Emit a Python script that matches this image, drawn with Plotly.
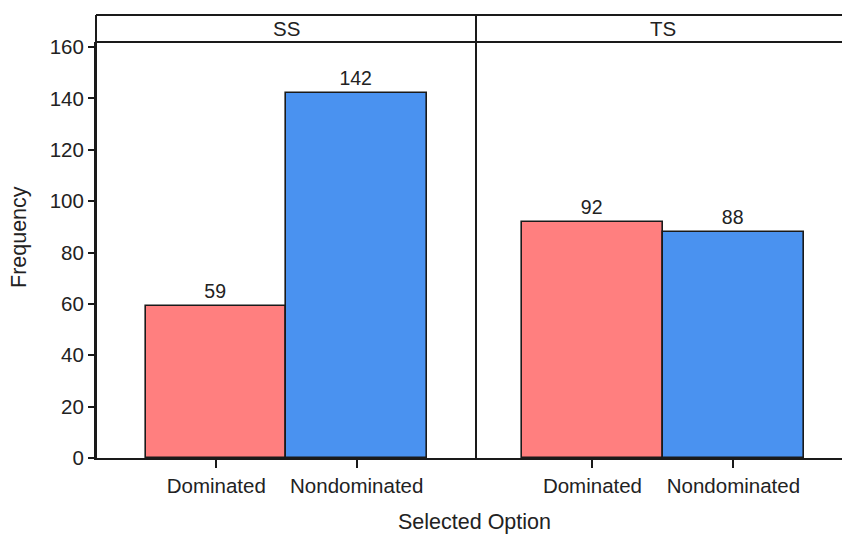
import plotly.graph_objects as go
from plotly.subplots import make_subplots

panels = ["SS", "TS"]
options = ["Dominated", "Nondominated"]
frequency = {"SS": [59, 142], "TS": [92, 88]}
colors = ["#FF7F7F", "#4A92F0"]
y_ticks = [0, 20, 40, 60, 80, 100, 120, 140, 160]

W, H = 842, 536
L, R, T, B = 96, 0, 42, 78
PW, PH = W - L - R, H - T - B
split = (476 - 96) / PW
strip_h = 27 / PH

fig = make_subplots(rows=1, cols=2, shared_yaxes=True, horizontal_spacing=0)
fam = "Liberation Sans, Arial"
font = dict(family=fam, size=20.5, color="#222")
for i, p in enumerate(panels):
    fig.add_trace(go.Bar(
        x=options, y=frequency[p], marker=dict(color=colors, line=dict(color="#1a1a1a", width=1.6)),
        text=[str(v) for v in frequency[p]], textposition="outside", cliponaxis=False,
        textfont=dict(family=fam, size=19.5, color="#222"),
        showlegend=False, width=1.0), row=1, col=i + 1)

axis_common = dict(showline=True, linecolor="#1a1a1a", linewidth=2, ticks="outside",
                   tickcolor="#1a1a1a", tickwidth=2, ticklen=8, showgrid=False,
                   tickfont=font, zeroline=False)
fig.update_layout(
    width=W, height=H, margin=dict(l=L, r=R, t=T, b=B),
    plot_bgcolor="white", paper_bgcolor="white", bargap=0,
    xaxis=dict(domain=[0, split], range=[-0.856, 1.849], **axis_common),
    xaxis2=dict(domain=[split, 1], range=[-0.826, 1.77], **axis_common),
    yaxis=dict(range=[0, 162], tickvals=y_ticks, showline=True, linecolor="#1a1a1a",
               linewidth=2, ticks="outside", tickcolor="#1a1a1a", tickwidth=2, ticklen=6,
               showgrid=False, zeroline=False, tickfont=font),
    yaxis2=dict(range=[0, 162], showticklabels=False, ticks="", showline=False, showgrid=False,
                zeroline=False),
)

lc = dict(color="#1a1a1a", width=2)
shapes = [
    dict(type="line", xref="paper", yref="paper", x0=0, x1=1, y0=1 + strip_h, y1=1 + strip_h, line=lc),
    dict(type="line", xref="paper", yref="paper", x0=0, x1=1, y0=1, y1=1, line=lc),
    dict(type="line", xref="paper", yref="paper", x0=0, x1=0, y0=0, y1=1 + strip_h, line=lc),
    dict(type="line", xref="paper", yref="paper", x0=split, x1=split, y0=0, y1=1 + strip_h, line=lc),
]
fig.update_layout(shapes=shapes)

ann = []
tscenter = (663 - 96) / PW
for p, cx in zip(panels, [split / 2, tscenter]):
    ann.append(dict(text=p, xref="paper", yref="paper", x=cx, y=1 + strip_h / 2,
                    showarrow=False, font=font, xanchor="center", yanchor="middle"))
ann.append(dict(text="Selected Option", xref="paper", yref="paper", x=(474 - 96) / PW,
                y=-(522 - 458) / PH, showarrow=False,
                font=dict(family=fam, size=21.5, color="#222"),
                xanchor="center", yanchor="middle"))
ann.append(dict(text="Frequency", xref="paper", yref="paper", x=-(96 - 19) / PW,
                y=(458 - 237) / PH, showarrow=False, textangle=-90,
                font=dict(family=fam, size=21.5, color="#222"),
                xanchor="center", yanchor="middle"))
fig.update_layout(annotations=ann)

fig.write_html("out.html", config={"displayModeBar": False},
               post_script="document.body.style.margin='0';document.body.style.overflow='hidden';")
